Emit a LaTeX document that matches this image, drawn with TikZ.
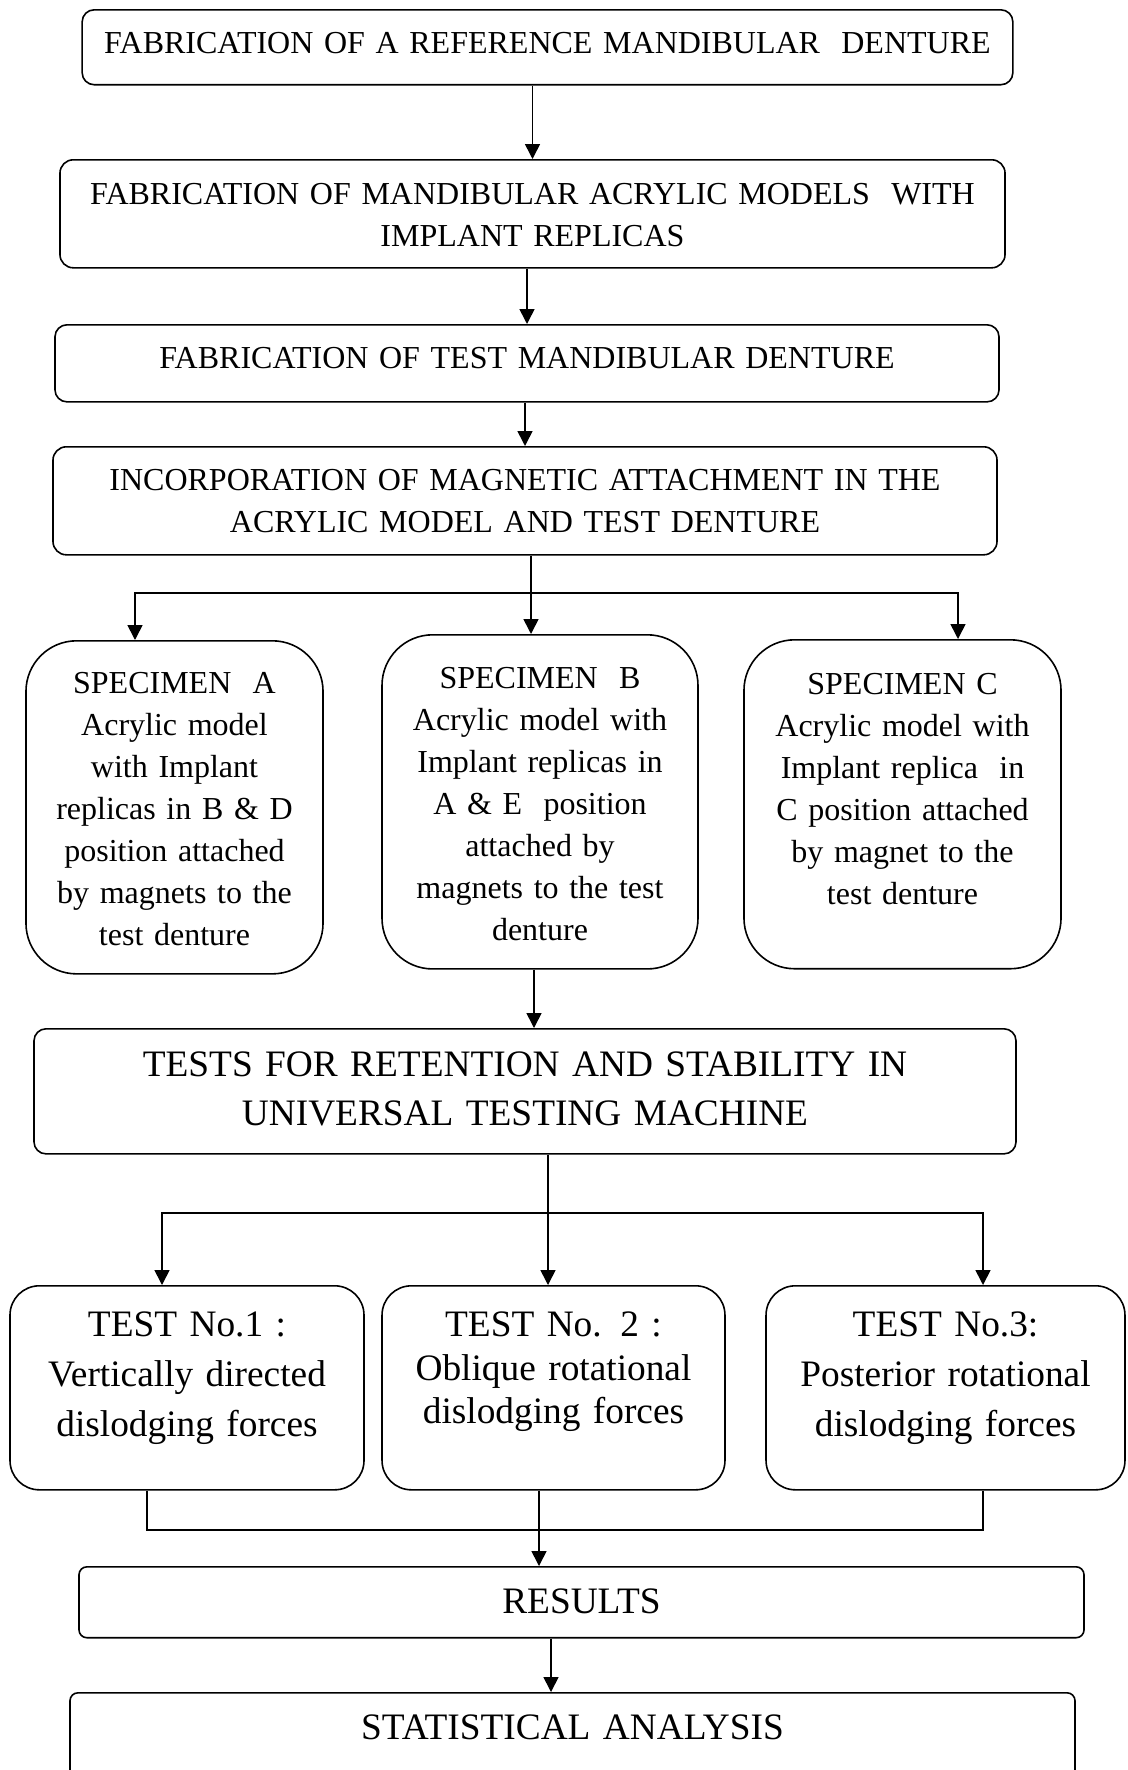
\documentclass[tikz,border=0pt]{standalone}
\usepackage{fontspec}
\setmainfont{Liberation Serif}
\usetikzlibrary{positioning,calc,arrows.meta}

\tikzset{
  box/.style={draw, line width=0.6pt, align=center, anchor=north, inner sep=0pt},
  small/.style={font=\fontsize{12}{15.75}\selectfont},
  big/.style={font=\fontsize{14}{18.4}\selectfont},
  spec/.style={box, small, rounded corners=19pt, text depth=105.2pt},
  testbox/.style={box, big, rounded corners=11pt, text height=19.1pt, text depth=57.4pt},
  arr/.style={line width=0.6pt, -{Triangle[length=5.6pt,width=5.6pt]}},
  ln/.style={line width=0.6pt}
}

\begin{document}
\begin{tikzpicture}[x=0.375pt, y=-0.375pt]
  \useasboundingbox (0,0) rectangle (1127,1770);
  \clip (0,0) rectangle (1127,1770);
  \fill[white] (0,0) rectangle (1127,1770);

  % main column
  \node[box, small, rounded corners=4.5pt, text width=349pt, text height=16.3pt, text depth=11.8pt]
    (ref) at (547.5,9) {FABRICATION OF A REFERENCE MANDIBULAR\ \ DENTURE};
  \node[box, small, rounded corners=5pt, text width=354.4pt, text height=16.7pt, text depth=23.8pt]
    (models) at (532.5,159) {FABRICATION OF MANDIBULAR ACRYLIC MODELS\ \ WITH\\ IMPLANT REPLICAS};
  \node[box, small, rounded corners=4.5pt, text width=354pt, text height=16.3pt, text depth=12.6pt]
    (testden) at (527,324) {FABRICATION OF TEST MANDIBULAR DENTURE};
  \node[box, small, rounded corners=5pt, text width=354pt, text height=16.3pt, text depth=24.2pt]
    (magnet) at (525,446) {INCORPORATION OF MAGNETIC ATTACHMENT IN THE\\ ACRYLIC MODEL AND TEST DENTURE};

  % specimens
  \node[spec, text width=111.4pt, text height=19.7pt] (specA) at (174.5,640)
    {SPECIMEN\ \ A\\ Acrylic model\\ with Implant\\ replicas in B \& D\\ position attached\\ by magnets to the\\ test denture};
  \node[spec, text width=118.5pt, text height=20.1pt] (specB) at (540,634)
    {SPECIMEN\ \ B\\ Acrylic model with\\ Implant replicas in\\ A \& E\ \ position\\ attached by\\ magnets to the test\\ denture};
  \node[spec, text width=118.9pt, text height=20.6pt, text depth=102.75pt] (specC) at (902.5,639)
    {SPECIMEN C\\ Acrylic model with\\ Implant replica\ \ in\\ C position attached\\ by magnet to the\\ test denture};

  \node[box, big, rounded corners=4.5pt, text width=368.25pt, text height=18pt, text depth=28.9pt]
    (tests) at (525,1028) {TESTS FOR RETENTION AND STABILITY IN\\ UNIVERSAL TESTING MACHINE};

  % tests
  \node[testbox, text width=132.75pt, font=\fontsize{14}{18.75}\selectfont] (test1) at (187,1285)
    {TEST No.1 :\\ Vertically directed\\ dislodging forces};
  \node[testbox, text width=128.6pt, font=\fontsize{14}{16.3}\selectfont] (test2) at (553.5,1285)
    {TEST No. 2 :\\ Oblique rotational\\ dislodging forces};
  \node[testbox, text width=134.6pt, font=\fontsize{14}{18.75}\selectfont] (test3) at (945.5,1285)
    {TEST No.3:\\ Posterior rotational\\ dislodging forces};

  \node[box, big, rounded corners=3pt, text width=376.9pt, text height=17.6pt, text depth=9pt]
    (results) at (581.5,1566) {RESULTS};
  \node[box, big, rounded corners=3pt, text width=376.9pt, text height=17.6pt, text depth=60pt]
    (stats) at (572.5,1692) {STATISTICAL ANALYSIS};

  % connectors
  \coordinate (s1) at (531,593);
  \coordinate (s1a) at (135,593);
  \coordinate (s1c) at (958,593);
  \coordinate (bB) at (534,0);
  \coordinate (s2) at (548,1213);
  \coordinate (s2a) at (162,1213);
  \coordinate (s2c) at (983,1213);
  \coordinate (j1) at (147,1530);
  \coordinate (j3) at (983,1530);
  \coordinate (m2) at (539,0);
  \coordinate (m3) at (551,0);

  \draw[arr] (ref.south -| models.north) -- (models.north);
  \draw[arr] (models.south -| testden.north) -- (testden.north);
  \draw[arr] (testden.south -| magnet.north) -- (magnet.north);

  \draw[ln] (magnet.south -| s1) -- (s1);
  \draw[arr] (s1) -- (s1 |- specB.north);
  \draw[arr] (s1) -- (s1a) -- (s1a |- specA.north);
  \draw[arr] (s1) -- (s1c) -- (s1c |- specC.north);

  \draw[arr] (specB.south -| bB) -- (bB |- tests.north);

  \draw[ln] (tests.south -| s2) -- (s2);
  \draw[arr] (s2) -- (s2 |- test2.north);
  \draw[arr] (s2) -- (s2a) -- (s2a |- test1.north);
  \draw[arr] (s2) -- (s2c) -- (s2c |- test3.north);

  \draw[ln] (test1.south -| j1) -- (j1) -- (j3) -- (test3.south -| j3);
  \draw[arr] (test2.south -| m2) -- (m2 |- results.north);
  \draw[arr] (results.south -| m3) -- (m3 |- stats.north);
\end{tikzpicture}
\end{document}
